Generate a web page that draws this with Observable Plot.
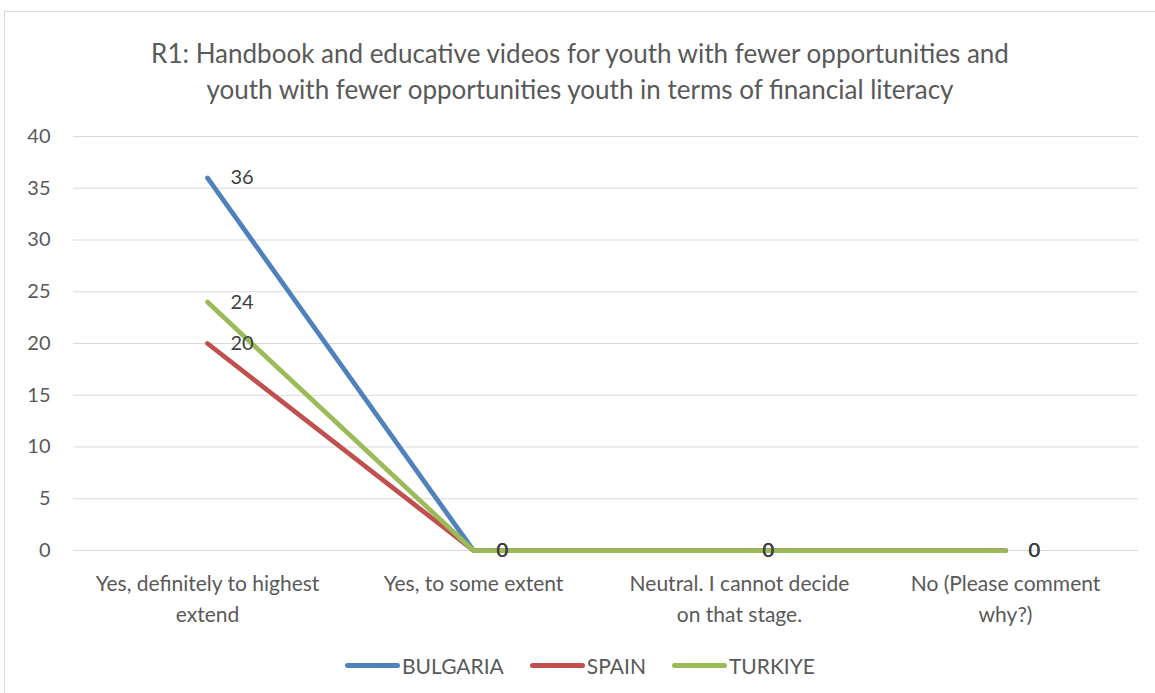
<!DOCTYPE html>
<html>
<head>
<meta charset="utf-8">
<script src="https://cdn.jsdelivr.net/npm/d3@7"></script>
<script src="https://cdn.jsdelivr.net/npm/@observablehq/plot@0.6"></script>
<style>
  html, body { margin: 0; padding: 0; background: #fff; }
  body { width: 1155px; height: 693px; overflow: hidden; font-family: Lato, "Open Sans", sans-serif; }
  #frame {
    position: absolute; left: 4px; top: 11px; width: 1160px; height: 700px;
    border: 1px solid #d9d9d9; box-sizing: border-box;
  }
  #title {
    position: absolute; left: 0; top: 23px; width: 1150px; text-align: center;
    font-size: 26px; line-height: 36px; color: #595959;
  }
  #chart { position: absolute; left: 0; top: 83px; }
  #legend {
    position: absolute; left: 0; top: 629px; width: 1150px; height: 48px;
    display: flex; justify-content: center; align-items: center; gap: 26px;
    font-size: 21px; color: #595959;
  }
  .item { display: flex; align-items: center; }
  .swatch { width: 55px; height: 5px; border-radius: 3px; margin-right: 2px; }
</style>
</head>
<body>
<div id="frame">
  <div id="title"></div>
  <div id="chart"></div>
  <div id="legend"></div>
</div>
<script>
// Survey answers along the x axis
const categories = [
  "Yes, definitely to highest extend",
  "Yes, to some extent",
  "Neutral. I cannot decide on that stage.",
  "No (Please comment why?)"
];
// Axis labels, broken over two lines
const categoryLabels = [
  "Yes, definitely to highest\nextend",
  "Yes, to some extent",
  "Neutral. I cannot decide\non that stage.",
  "No (Please comment\nwhy?)"
];
const countries = ["BULGARIA", "SPAIN", "TURKIYE"];
const colors = ["#4F81BD", "#C0504D", "#9BBB59"];
const bulgaria = [36, 0, 0, 0];
const spain = [20, 0, 0, 0];
const turkiye = [24, 0, 0, 0];
const yTicks = [0, 5, 10, 15, 20, 25, 30, 35, 40];
const titleLines = [
  "R1: Handbook and educative videos for youth with fewer opportunities and",
  "youth with fewer opportunities youth in terms of financial literacy"
];

const seriesValues = [bulgaria, spain, turkiye];
const rows = countries.flatMap((country, s) =>
  categories.map((category, i) => ({country, category, value: seriesValues[s][i]}))
);

document.getElementById("title").innerHTML = titleLines.join("<br>");

const chart = Plot.plot({
  width: 1150,
  height: 545,
  marginTop: 41,
  marginLeft: 68,
  marginRight: 17,
  marginBottom: 90,
  style: {fontFamily: "Lato, 'Open Sans', sans-serif", fontSize: "20px", color: "#595959", background: "transparent"},
  x: {type: "point", domain: categories, padding: 0.5, label: null},
  y: {domain: [0, 40], label: null},
  color: {domain: countries, range: colors},
  marks: [
    Plot.gridY(yTicks, {stroke: "#d9d9d9", strokeOpacity: 1, strokeWidth: 1}),
    Plot.axisY(yTicks, {tickSize: 0, tickPadding: 23, fontSize: 20, fill: "#595959", label: null}),
    Plot.axisX({
      tickSize: 0, tickPadding: 18, fontSize: 21, fill: "#595959", lineHeight: 1.48, label: null,
      tickFormat: (d) => categoryLabels[categories.indexOf(d)]
    }),
    Plot.line(rows, {
      x: "category", y: "value", z: "country", stroke: "country",
      strokeWidth: 4.75, strokeLinecap: "round", strokeLinejoin: "round"
    }),
    Plot.text(rows, {
      x: "category", y: "value", text: "value", dx: 23, textAnchor: "start",
      fill: "#404040", fontSize: 20
    })
  ]
});
document.getElementById("chart").appendChild(chart);

const legend = d3.select("#legend");
countries.forEach((c, i) => {
  const item = legend.append("div").attr("class", "item");
  item.append("div").attr("class", "swatch").style("background", colors[i]);
  item.append("span").text(c);
});
</script>
</body>
</html>
